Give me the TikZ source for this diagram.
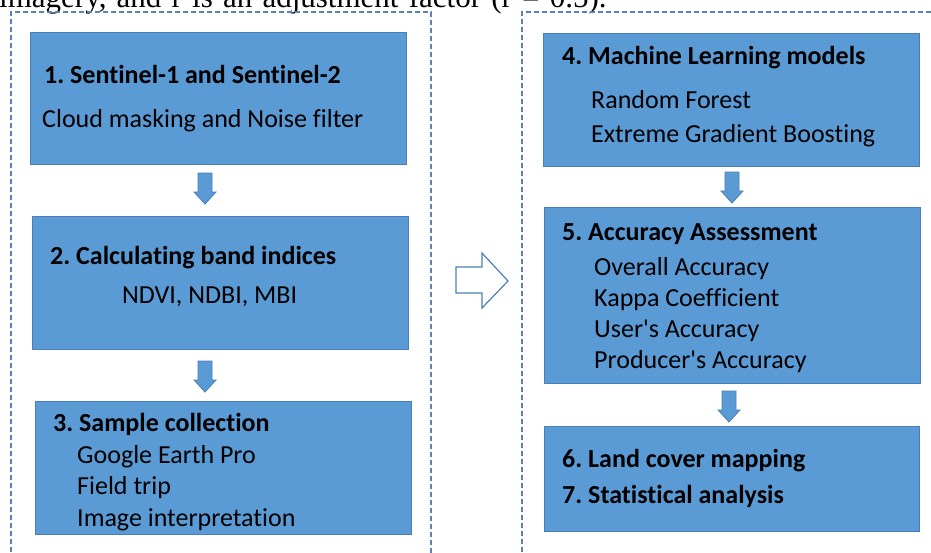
\documentclass[tikz,border=0pt]{standalone}
\usepackage{fontspec}
\setmainfont{Carlito}[Ligatures={TeX,NoCommon}]
\newfontfamily\serifpara{Liberation Serif}
\frenchspacing
\definecolor{boxblue}{HTML}{5B9BD5}
\definecolor{boxline}{HTML}{4A7EBB}
\definecolor{frameline}{HTML}{5A82B4}
\tikzset{
  box/.style={draw=boxline, line width=1pt, fill=boxblue, inner sep=0pt},
  frame/.style={draw=frameline, line width=1.1pt, dash pattern=on 5pt off 3pt},
  txt/.style={anchor=base west, inner sep=0pt, font=\fontsize{26}{31}\selectfont},
  btxt/.style={txt, font=\fontsize{26}{31}\selectfont\bfseries},
  downarr/.style={draw=boxline, line width=0.8pt, fill=boxblue},
  rightarr/.style={draw=boxline, line width=1.2pt, fill=white, line join=miter}
}
\newcommand\darrowat[2]{%
  \draw[downarr] (#1-7,#2) -- (#1+7,#2) -- (#1+7,#2+19) -- (#1+11,#2+19)
     -- (#1,#2+31) -- (#1-11,#2+19) -- (#1-7,#2+19) -- cycle;}
\begin{document}
\begin{tikzpicture}[x=1pt,y=-1pt]
\useasboundingbox (0,0) rectangle (931,552);
\fill[white] (0,0) rectangle (931,552);
\begin{scope}
\clip (0,0) rectangle (931,552);
% cut-off text line from the page above
\node[anchor=base west, inner sep=0pt, font=\serifpara\fontsize{31}{36}\selectfont] (top) at (-1,7)
  {\spaceskip=10.2pt imagery, and r is an adjustment factor (r = 0.5).};
% dashed frames
\draw[frame] (11,560) -- (11,12) -- (431,12) -- (431,560);
\draw[frame] (522,560) -- (522,12) -- (940,12);
% boxes
\node[box, minimum width=376pt, minimum height=132pt] (b1) at (218,98) {};
\node[box, minimum width=376pt, minimum height=133pt] (b2) at (220,282.5) {};
\node[box, minimum width=376pt, minimum height=133pt] (b3) at (223,468) {};
\node[box, minimum width=376pt, minimum height=133pt] (b4) at (731,99.5) {};
\node[box, minimum width=376pt, minimum height=176pt] (b5) at (732,295) {};
\node[box, minimum width=375pt, minimum height=105pt] (b6) at (732,479) {};
% texts
\node[btxt] (t1a) at (44,83) {1. Sentinel-1 and Sentinel-2};
\node[txt]  (t1b) at (42,127) {Cloud masking and Noise filter};
\node[btxt] (t2a) at (50,264) {2. Calculating band indices};
\node[txt]  (t2b) at (122,303) {NDVI, NDBI, MBI};
\node[btxt] (t3a) at (53,431) {3. Sample collection};
\node[txt]  (t3b) at (77,463) {Google Earth Pro};
\node[txt]  (t3c) at (77,494) {Field trip};
\node[txt]  (t3d) at (77,526) {Image interpretation};
\node[btxt] (t4a) at (562,64) {4. Machine Learning models};
\node[txt]  (t4b) at (591,108) {Random Forest};
\node[txt]  (t4c) at (591,142) {Extreme Gradient Boosting};
\node[btxt] (t5a) at (562,240) {5. Accuracy Assessment};
\node[txt]  (t5b) at (594,275) {Overall Accuracy};
\node[txt]  (t5c) at (594,306) {Kappa Coefficient};
\node[txt]  (t5d) at (594,337) {User\textquotesingle s Accuracy};
\node[txt]  (t5e) at (594,368) {Producer\textquotesingle s Accuracy};
\node[btxt] (t6a) at (562,467) {6. Land cover mapping};
\node[btxt] (t6b) at (562,503) {7. Statistical analysis};
% arrows
\darrowat{205}{173}
\darrowat{205}{361}
\darrowat{732}{172}
\darrowat{729}{391}
\draw[rightarr] (456,267) -- (482,267) -- (482,253) -- (508,281) -- (482,308)
  -- (482,293) -- (456,293) -- cycle;
\end{scope}
\end{tikzpicture}
\end{document}
